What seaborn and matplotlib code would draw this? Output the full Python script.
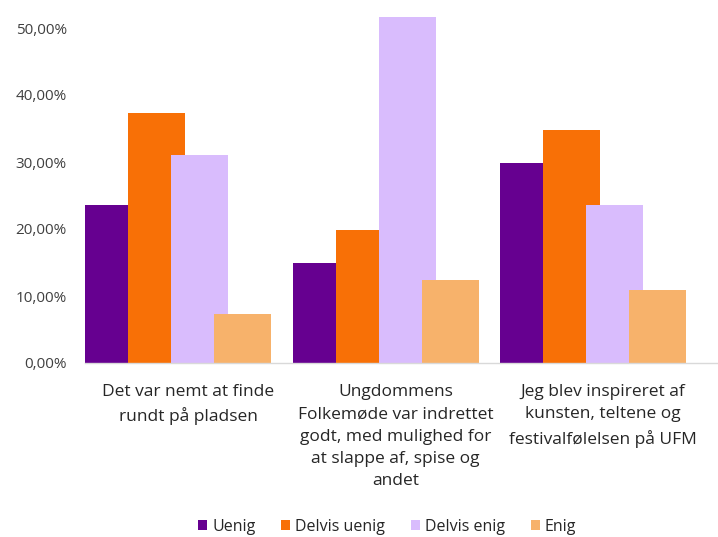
import pandas as pd
import numpy as np
import matplotlib
matplotlib.use("Agg")
import matplotlib.pyplot as plt
import seaborn as sb
from matplotlib.patches import Patch

statements = ["Det var nemt at finde\nrundt på pladsen",
              "Ungdommens\nFolkemøde var indrettet\ngodt, med mulighed for\nat slappe af, spise og\nandet",
              "Jeg blev inspireret af\nkunsten, teltene og\nfestivalfølelsen på UFM"]
answers = ["Uenig", "Delvis uenig", "Delvis enig", "Enig"]
uenig = [23.6, 14.9, 29.8]
delvis_uenig = [37.3, 19.9, 34.8]
delvis_enig = [31.0, 51.7, 23.6]
enig = [7.3, 12.4, 10.9]
colors = ["#660090", "#F87006", "#D9BCFD", "#F7B26B"]

rows = []
for ans, vals in zip(answers, [uenig, delvis_uenig, delvis_enig, enig]):
    for st, v in zip(statements, vals):
        rows.append({"Udsagn": st, "Svar": ans, "Andel": v})
data = pd.DataFrame(rows)

sb.set_theme(style="white")
plt.rcParams["font.family"] = ["Open Sans", "DejaVu Sans"]

fig = plt.figure(figsize=(7.18, 5.37), dpi=100)
ax = fig.add_axes([85 / 718, 1 - 363 / 537, 633 / 718, 353 / 537])

step = 43 / 207.5
sb.barplot(data=data, x="Udsagn", y="Andel", hue="Svar", order=statements,
           hue_order=answers, palette=colors, width=4 * step, linewidth=0,
           saturation=1, errorbar=None, legend=False, ax=ax)

# bars in the original overlap a bit, widen them keeping the left edge
for p in ax.patches:
    p.set_width(57 / 207.5)

ax.set_xlim(-2 * step, -2 * step + 633 / 207.5)
ax.set_ylim(0, 353 / 6.7)
ax.set_yticks([0, 10, 20, 30, 40, 50])
ax.set_yticklabels([f"{v:.2f}".replace(".", ",") + "%" for v in [0, 10, 20, 30, 40, 50]],
                   fontsize=11, color="#404040")
ax.set_xticks([i + 0.082 for i in range(3)])
ax.set_xticklabels(statements, fontsize=12.5, color="#262626", linespacing=1.53)
ax.tick_params(axis="y", length=0, pad=13)
ax.tick_params(axis="x", length=0, pad=15)
ax.set_xlabel("")
ax.set_ylabel("")
for s in ["top", "right", "left"]:
    ax.spines[s].set_visible(False)
ax.spines["bottom"].set_color("#D9D9D9")
ax.spines["bottom"].set_linewidth(1)

handles = [Patch(facecolor=c, edgecolor="none") for c in colors]
fig.legend(handles, answers, loc="center", bbox_to_anchor=(387 / 718, 10 / 537),
           ncol=4, frameon=False, fontsize=11.5, handlelength=0.6, handleheight=0.6,
           handletextpad=0.3, columnspacing=1.6, labelcolor="#262626")

plt.savefig("out.png", dpi=100)
